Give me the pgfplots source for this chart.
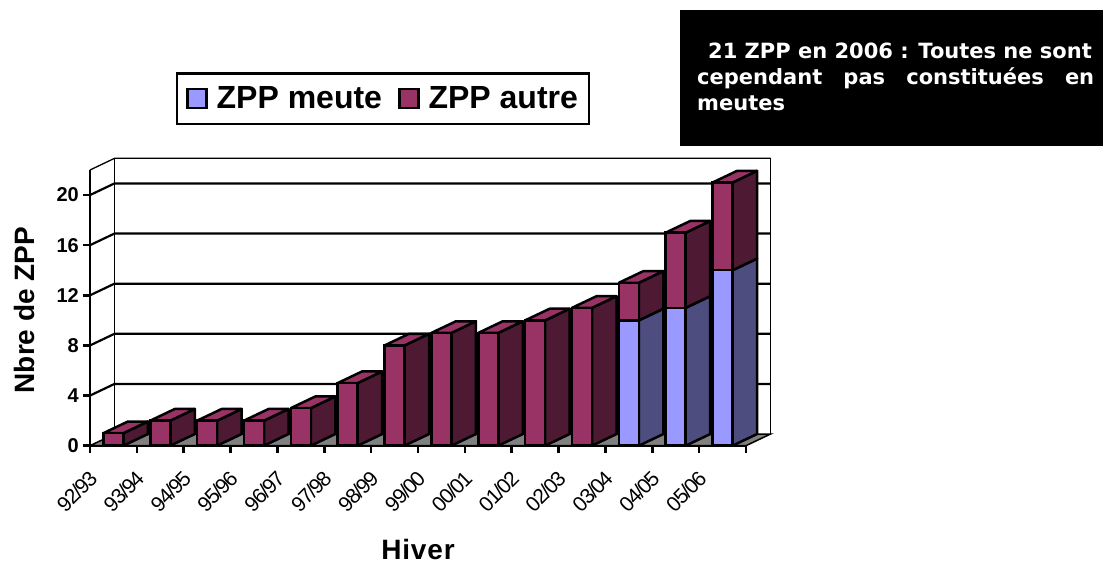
\documentclass[border=0pt]{standalone}
\usepackage{pgfplots}
\usepackage{fontspec}
\setmainfont{Liberation Sans}
\newfontfamily\boxfont{DejaVu Sans}
\newfontfamily\tightfont[LetterSpace=-7]{Liberation Sans}
\newfontfamily\widefont[LetterSpace=3]{Liberation Sans}
\pgfplotsset{compat=1.18}
\definecolor{autre}{HTML}{993366}
\definecolor{autreS}{HTML}{4D1933}
\definecolor{meute}{HTML}{9999FF}
\definecolor{meuteS}{HTML}{4D4D80}
\definecolor{floorc}{HTML}{808080}
\newcommand\fs[1]{\fontsize{#1}{#1}\selectfont}
\def\dx{0.523}
\def\dv{0.93}
\def\hw{0.2134}
% side + top faces of a bar: centre, lower value, upper value, side colour
\newcommand\sideface[4]{%
  \pgfmathsetmacro\xa{#1+\hw}\pgfmathsetmacro\xb{\xa+\dx}%
  \pgfmathsetmacro\va{#2+\dv}\pgfmathsetmacro\vb{#3+\dv}%
  \addplot[forget plot,draw=black,line width=2.5pt,line join=round,fill=#4]
    coordinates {(\xa,#2)(\xb,\va)(\xb,\vb)(\xa,#3)(\xa,#2)};
}
\newcommand\topface[2]{%
  \pgfmathsetmacro\xa{#1-\hw}\pgfmathsetmacro\xr{#1+\hw}%
  \pgfmathsetmacro\xb{\xr+\dx}\pgfmathsetmacro\xc{\xa+\dx}%
  \pgfmathsetmacro\vb{#2+\dv}%
  \addplot[forget plot,draw=black,line width=2.5pt,line join=round,fill=autre]
    coordinates {(\xa,#2)(\xr,#2)(\xb,\vb)(\xc,\vb)(\xa,#2)};
}
\newcommand\gridl[2]{%
  \pgfmathsetmacro\xc{\dx}\pgfmathsetmacro\xe{14+\dx}\pgfmathsetmacro\vb{#1+\dv}%
  \addplot[forget plot,draw=black,line width=#2]
    coordinates {(0,#1)(\xc,\vb)(\xe,\vb)};
}
\begin{document}
\begin{tikzpicture}[x=1pt,y=1pt]
\useasboundingbox (0,0) rectangle (1103,561);
\fill[black] (680,415) rectangle (1103,551);
\node[white,anchor=base west,inner sep=0pt,font=\boxfont\bfseries\fs{21}] at (708,502) {21 ZPP en 2006 : Toutes ne sont};
\node[white,anchor=base west,inner sep=0pt,font=\boxfont\bfseries\fs{21}] at (697,476) {\makebox[397pt][s]{cependant\hfill pas\hfill constituées\hfill en}};
\node[white,anchor=base west,inner sep=0pt,font=\boxfont\bfseries\fs{21}] at (697,450) {meutes};
\begin{axis}[
  at={(90pt,115.3pt)},anchor=south west,
  scale only axis,width=656pt,height=275.7pt,
  xmin=0,xmax=14,ymin=0,ymax=22,clip=false,
  axis lines=left,
  axis line style={-,line width=2.5pt},
  tick align=outside,major tick length=7pt,
  every tick/.style={black,line width=2.5pt},
  xtick={0,...,14},
  xticklabels={92/93,93/94,94/95,95/96,96/97,97/98,98/99,99/00,00/01,01/02,02/03,03/04,04/05,05/06,{}},
  ytick={0,4,8,12,16,20},
  /pgf/number format/assume math mode=true,
  x tick label style={rotate=45,anchor=north east,xshift=-13pt,yshift=-10pt,font=\tightfont\fs{21},inner sep=0pt},
  y tick label style={font=\bfseries\fs{20},inner sep=0pt,xshift=-4pt},
  xlabel={Hiver},ylabel={Nbre de ZPP},
  xlabel style={at={(axis description cs:0.5,-0.375)},anchor=center,font=\widefont\bfseries\fs{28},inner sep=0pt},
  ylabel style={at={(axis description cs:-0.1006,0.492)},anchor=center,font=\bfseries\fs{28}},
  legend style={at={(axis description cs:0.131,1.355)},anchor=north west,draw=black,line width=2.5pt,
    font=\bfseries\fs{32},legend columns=2,inner xsep=9pt,inner ysep=11.5pt,
    /tikz/column 1/.style={column sep=7pt},
    /tikz/column 2/.style={column sep=14pt},
    /tikz/column 3/.style={column sep=7pt}},
  legend cell align=left,
]
\addlegendimage{legend image code/.code={\draw[draw=black,line width=2.5pt,fill=meute] (0pt,-9.5pt) rectangle (19pt,9.5pt);}}
\addlegendentry{ZPP meute}
\addlegendimage{legend image code/.code={\draw[draw=black,line width=2.5pt,fill=autre] (0pt,-9.5pt) rectangle (19pt,9.5pt);}}
\addlegendentry{ZPP autre}
% floor
\addplot[forget plot,draw=black,line width=1.5pt,fill=floorc]
  coordinates {(0,0)(14,0)(14.523,0.93)(0.523,0.93)(0,0)};
% back wall
\gridl{4}{2.2pt}\gridl{8}{2.2pt}\gridl{12}{2.2pt}\gridl{16}{2.2pt}\gridl{20}{2.2pt}\gridl{22}{1.3pt}
\addplot[forget plot,draw=black,line width=1.6pt] coordinates {(0.523,0.93)(0.523,22.93)};
\addplot[forget plot,draw=black,line width=1.6pt] coordinates {(14.523,0.93)(14.523,22.93)};
% side and top faces
\sideface{0.5}{0}{1}{autreS}\topface{0.5}{1}
\sideface{1.5}{0}{2}{autreS}\topface{1.5}{2}
\sideface{2.5}{0}{2}{autreS}\topface{2.5}{2}
\sideface{3.5}{0}{2}{autreS}\topface{3.5}{2}
\sideface{4.5}{0}{3}{autreS}\topface{4.5}{3}
\sideface{5.5}{0}{5}{autreS}\topface{5.5}{5}
\sideface{6.5}{0}{8}{autreS}\topface{6.5}{8}
\sideface{7.5}{0}{9}{autreS}\topface{7.5}{9}
\sideface{8.5}{0}{9}{autreS}\topface{8.5}{9}
\sideface{9.5}{0}{10}{autreS}\topface{9.5}{10}
\sideface{10.5}{0}{11}{autreS}\topface{10.5}{11}
\sideface{11.5}{0}{10}{meuteS}\sideface{11.5}{10}{13}{autreS}\topface{11.5}{13}
\sideface{12.5}{0}{11}{meuteS}\sideface{12.5}{11}{17}{autreS}\topface{12.5}{17}
\sideface{13.5}{0}{14}{meuteS}\sideface{13.5}{14}{21}{autreS}\topface{13.5}{21}
% front faces: total (autre on top of meute), then meute
\addplot[forget plot,ybar,bar width=20pt,bar shift=0pt,draw=black,line width=2.5pt,fill=autre]
  coordinates {(0.5,1)(1.5,2)(2.5,2)(3.5,2)(4.5,3)(5.5,5)(6.5,8)(7.5,9)(8.5,9)(9.5,10)(10.5,11)(11.5,13)(12.5,17)(13.5,21)};
\addplot[forget plot,ybar,bar width=20pt,bar shift=0pt,draw=black,line width=2.5pt,fill=meute]
  coordinates {(11.5,10)(12.5,11)(13.5,14)};
\end{axis}
\end{tikzpicture}
\end{document}
